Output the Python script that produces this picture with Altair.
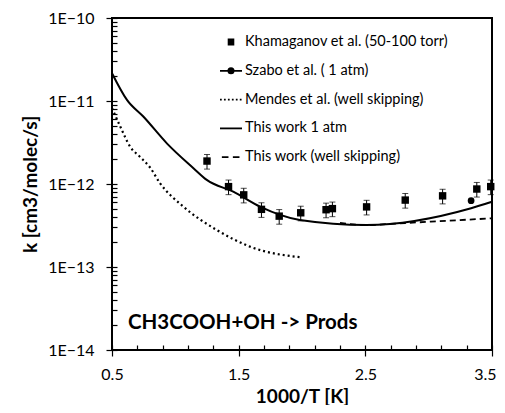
import altair as alt
import pandas as pd

# ---- data ----
kham_x = [1.25, 1.42, 1.54, 1.68, 1.82, 1.99, 2.19, 2.24, 2.51, 2.815, 3.11, 3.38, 3.49]
kham_k = [1.89e-12, 9.3e-13, 7.4e-13, 4.95e-13, 4.1e-13, 4.5e-13, 4.9e-13, 5.05e-13,
          5.3e-13, 6.4e-13, 7.2e-13, 8.7e-13, 9.3e-13]
kham_err = [0.2, 0.2, 0.2, 0.2, 0.2, 0.2, 0.2, 0.2, 0.2, 0.2, 0.2, 0.2, 0.2]

szabo_x = [3.335]
szabo_k = [6.3e-13]

this_x = [0.5, 0.618, 0.749, 0.933, 1.143, 1.248, 1.457, 1.668, 1.983, 2.508, 3.335, 3.5]
this_k = [2.16e-11, 1.03e-11, 6.45e-12, 3.09e-12, 1.55e-12, 1.12e-12, 8.07e-13, 5.33e-13,
          3.68e-13, 3.2e-13, 5.1e-13, 6.1e-13]

skip_x = [2.3, 2.508, 2.77, 3.5]
skip_k = [3.4e-13, 3.2e-13, 3.36e-13, 3.86e-13]

mendes_x = [0.5, 0.566, 0.644, 0.72, 0.80, 0.88, 1.064, 1.327, 1.589, 2.004]
mendes_k = [8.2e-12, 4.9e-12, 2.8e-12, 2.13e-12, 1.58e-12, 1.02e-12, 5.33e-13, 2.79e-13,
            1.76e-13, 1.3e-13]

series_names = ["Khamaganov et al. (50-100 torr)", "Szabo et al. ( 1 atm)",
                "Mendes et al. (well skipping)", "This work 1 atm", "This work (well skipping)"]

x_major = [0.5, 1.5, 2.5, 3.5]
x_minor = [round(0.5 + 0.2 * i, 1) for i in range(16)]
y_major = [1e-14, 1e-13, 1e-12, 1e-11, 1e-10]
y_minor = [m * 10.0 ** e for e in range(-14, -10) for m in range(1, 10)] + [1e-10]

annotation = ["CH3COOH+OH -> Prods"]

# ---- frames ----
kham = pd.DataFrame({"x": kham_x, "k": kham_k,
                     "lo": [k * (1 - e) for k, e in zip(kham_k, kham_err)],
                     "hi": [k * (1 + e) for k, e in zip(kham_k, kham_err)]})
szabo = pd.DataFrame({"x": szabo_x, "k": szabo_k})
this = pd.DataFrame({"x": this_x, "k": this_k})
skip = pd.DataFrame({"x": skip_x, "k": skip_k})
mendes = pd.DataFrame({"x": mendes_x, "k": mendes_k})
leg = pd.DataFrame({"series": series_names})
ann = pd.DataFrame({"t": annotation})

FONT = "Lato"
W, H = 380, 332
xs = alt.Scale(domain=[0.5, 3.5], nice=False, zero=False)
ys = alt.Scale(type="log", domain=[1e-14, 1e-10], nice=False)

label_expr = "'1E' + format(round(log(datum.value) / LN10), 'd')"

# main (outer) axes
x_main = alt.X("x:Q", scale=xs, axis=alt.Axis(
    values=x_major, format=".1f", orient="bottom", title="1000/T [K]", grid=False,
    domain=False, tickSize=6, tickColor="black", tickWidth=1.2, labelFlush=False,
    labelAlign={"expr": "datum.value > 3.4 ? 'right' : 'center'"},
    labelOffset={"expr": "datum.value > 3.4 ? 4 : 0"},
    labelFont=FONT, labelFontSize=16, labelColor="black", labelPadding=10,
    titleFont=FONT, titleFontSize=19, titleFontWeight="bold", titleColor="black",
    titlePadding=5))
y_main = alt.Y("k:Q", scale=ys, axis=alt.Axis(
    values=y_major, labelExpr=label_expr, orient="left", title="k [cm3/molec/s]",
    grid=False, domain=False, tickSize=6, tickColor="black", tickWidth=1.2,
    labelFlush=False, labelFont=FONT, labelFontSize=16, labelColor="black",
    labelPadding=12, titleFont=FONT, titleFontSize=19, titleFontWeight="bold",
    titleColor="black", titlePadding=7))

# inner ticks axes
x_inner = alt.X("x:Q", scale=xs, axis=alt.Axis(
    values=x_minor, orient="bottom", offset=-5, labels=False, title=None, grid=False,
    domain=False, tickSize=5, tickColor="black", tickWidth=1.2))
y_inner = alt.Y("k:Q", scale=ys, axis=alt.Axis(
    values=y_minor, orient="left", offset=-5, labels=False, title=None, grid=False,
    domain=False, tickSize=5, tickColor="black", tickWidth=1.2))

xn = alt.X("x:Q", scale=xs, axis=None)
yn = alt.Y("k:Q", scale=ys, axis=None)

# plot frame
frame = alt.Chart(ann).mark_rect(stroke="#000000", strokeWidth=2, fill="transparent").encode(
    x=alt.value(0), x2=alt.value(W), y=alt.value(0), y2=alt.value(H))

solid = alt.Chart(this).mark_line(color="black", strokeWidth=2, interpolate="monotone").encode(
    x=x_main, y=y_main)
dashed = alt.Chart(skip).mark_line(color="black", strokeWidth=1.8, strokeDash=[6, 4],
                                   interpolate="monotone").encode(x=x_inner, y=y_inner)
dotted = alt.Chart(mendes).mark_line(color="black", strokeWidth=2.2, strokeDash=[2, 3],
                                     interpolate="monotone").encode(x=xn, y=yn)

bars = alt.Chart(kham).mark_rule(color="black", strokeWidth=1).encode(
    x=xn, y=alt.Y("lo:Q", scale=ys, axis=None), y2="hi:Q")
cap_lo = alt.Chart(kham).mark_tick(color="black", orient="horizontal", size=6, thickness=1).encode(
    x=xn, y=alt.Y("lo:Q", scale=ys, axis=None))
cap_hi = alt.Chart(kham).mark_tick(color="black", orient="horizontal", size=6, thickness=1).encode(
    x=xn, y=alt.Y("hi:Q", scale=ys, axis=None))
squares = alt.Chart(kham).mark_square(color="black", size=55, opacity=1).encode(x=xn, y=yn)
circle = alt.Chart(szabo).mark_circle(color="black", size=45, opacity=1).encode(x=xn, y=yn)

text = alt.Chart(ann).mark_text(align="left", baseline="middle", font=FONT, fontSize=20.5,
                                fontWeight="bold", color="black").encode(
    x=alt.value(16), y=alt.value(305), text="t:N")

# legend (symbols as stroke-only custom paths; unit = 11 px)
square_path = "".join(f"M-0.3,{y:.2f}H0.3" for y in (-0.24, -0.12, 0.0, 0.12, 0.24))
ring = lambda r: f"M{r},0A{r},{r} 0 1 1 -{r},0A{r},{r} 0 1 1 {r},0"
circle_path = "M-1,0H1" + ring(0.24) + ring(0.1)
dots = "".join(f"M{-1 + 0.36 * i:.2f},0h0.16" for i in range(6))
paths = [
    square_path,
    circle_path,
    dots,
    "M-1,0H1",
    "M-0.83,0H-0.23M0.17,0H0.77",
]
legend_layer = alt.Chart(leg).mark_point(
    filled=False, color="black", strokeWidth=1.8, opacity=0
).encode(
    x=alt.value(0), y=alt.value(0),
    shape=alt.Shape("series:N", scale=alt.Scale(domain=series_names, range=paths),
                    legend=alt.Legend(
                        title=None, orient="none", legendX=107, legendY=12, padding=0,
                        symbolSize=484, symbolStrokeColor="black",
                        symbolStrokeWidth=1.8, symbolOpacity=1, rowPadding=9.8,
                        labelOffset=2, labelFont=FONT, labelFontSize=14.5,
                        labelColor="black", labelLimit=400)))

chart = alt.layer(
    dotted, bars, cap_lo, cap_hi, solid, dashed, squares, circle, text, frame, legend_layer
).resolve_axis(x="independent", y="independent").properties(
    width=W, height=H,
    autosize=alt.AutoSizeParams(type="none"),
    padding={"left": 104, "top": 10, "right": 5, "bottom": 55},
    background="white",
).configure_view(stroke="black", strokeWidth=1.5)

chart.save("out.html", embed_options={"renderer": "svg", "actions": False})
